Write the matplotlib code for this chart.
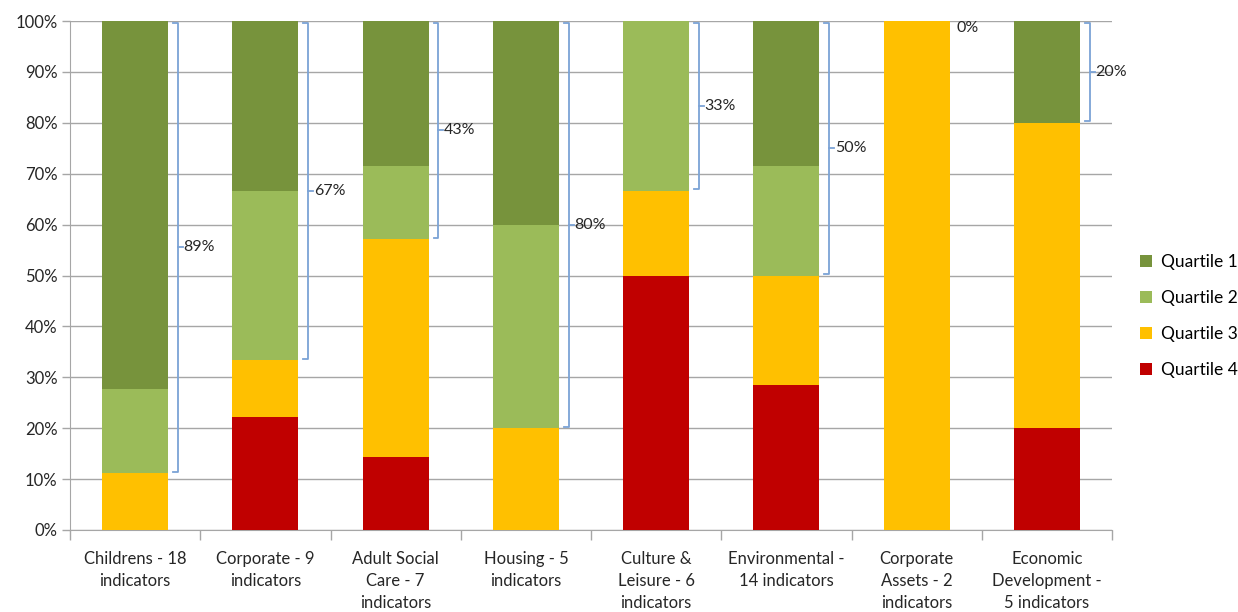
import numpy as np
import matplotlib.pyplot as plt

plt.rcParams['font.family'] = ['Lato', 'DejaVu Sans']

categories = ["Childrens - 18\nindicators", "Corporate - 9\nindicators",
              "Adult Social\nCare - 7\nindicators", "Housing - 5\nindicators",
              "Culture &\nLeisure - 6\nindicators", "Environmental -\n14 indicators",
              "Corporate\nAssets - 2\nindicators", "Economic\nDevelopment -\n5 indicators"]

# number of indicators in each quartile per service area
q1 = np.array([13, 3, 2, 2, 0, 4, 0, 1])
q2 = np.array([3, 3, 1, 2, 2, 3, 0, 0])
q3 = np.array([2, 1, 3, 1, 1, 3, 2, 3])
q4 = np.array([0, 2, 1, 0, 3, 4, 0, 1])

totals = q1 + q2 + q3 + q4
p1, p2, p3, p4 = (q / totals * 100 for q in (q1, q2, q3, q4))
top_half = p1 + p2  # share in quartiles 1 and 2

colors = {"Quartile 1": "#77933C", "Quartile 2": "#9BBB59",
          "Quartile 3": "#FFC000", "Quartile 4": "#C00000"}
brace_color = "#7BA3D6"
txt = "#262626"

fig = plt.figure(figsize=(12.38, 6.12), dpi=100)
ax = fig.add_axes([70 / 1238, 82 / 612, 1042 / 1238, 509 / 612])

x = np.arange(len(categories))
w = 0.505
bottom = np.zeros(len(categories))
handles = []
for name, vals in zip(["Quartile 4", "Quartile 3", "Quartile 2", "Quartile 1"], [p4, p3, p2, p1]):
    h = ax.bar(x, vals, w, bottom=bottom, color=colors[name], label=name, zorder=3)
    handles.append(h)
    bottom += vals

# brackets spanning quartiles 1 and 2
for i in range(len(categories)):
    lo = 100 - top_half[i]
    if top_half[i] == 0:
        ax.text(x[i] + w / 2 + 0.05, 98.7, "0%", fontsize=11.5, va="center", ha="left", color=txt)
        continue
    xb = x[i] + w / 2 + 0.075
    mid = (lo + 100) / 2
    ax.plot([xb - 0.035, xb, xb, xb - 0.035], [99.7, 99.7, lo + 0.3, lo + 0.3],
            color=brace_color, lw=1.3, zorder=4, solid_joinstyle="round")
    ax.plot([xb, xb + 0.04], [mid, mid], color=brace_color, lw=1.3, zorder=4)
    ax.text(xb + 0.045, mid, f"{top_half[i]:.0f}%", fontsize=11.5, va="center", ha="left", color=txt)

ax.set_xlim(-0.5, len(categories) - 0.5)
ax.set_ylim(0, 100)
ax.set_yticks(np.arange(0, 101, 10))
ax.set_yticklabels([f"{v}%" for v in range(0, 101, 10)], fontsize=12, color=txt)
ax.yaxis.grid(True, color="#A6A6A6", lw=1, zorder=0)

ax.set_xticks(x)
ax.set_xticklabels(categories, fontsize=12, color=txt, linespacing=1.48, va="top")
ax.set_xticks(np.arange(-0.5, len(categories)), minor=True)
ax.tick_params(axis="x", which="major", length=0, pad=15)
ax.tick_params(axis="x", which="minor", length=7, color="#A6A6A6", width=1)
ax.tick_params(axis="y", length=6, color="#A6A6A6", width=1, pad=3)

for side in ["top", "right"]:
    ax.spines[side].set_visible(False)
for side in ["left", "bottom"]:
    ax.spines[side].set_color("#A6A6A6")

ax.legend(handles[::-1], [h.get_label() for h in handles[::-1]], loc="center left",
          bbox_to_anchor=(1.012, 0.42), frameon=False, fontsize=12.5, handlelength=0.7,
          handleheight=0.7, handletextpad=0.5, labelspacing=1.15)

fig.savefig("out.png", dpi=100)
